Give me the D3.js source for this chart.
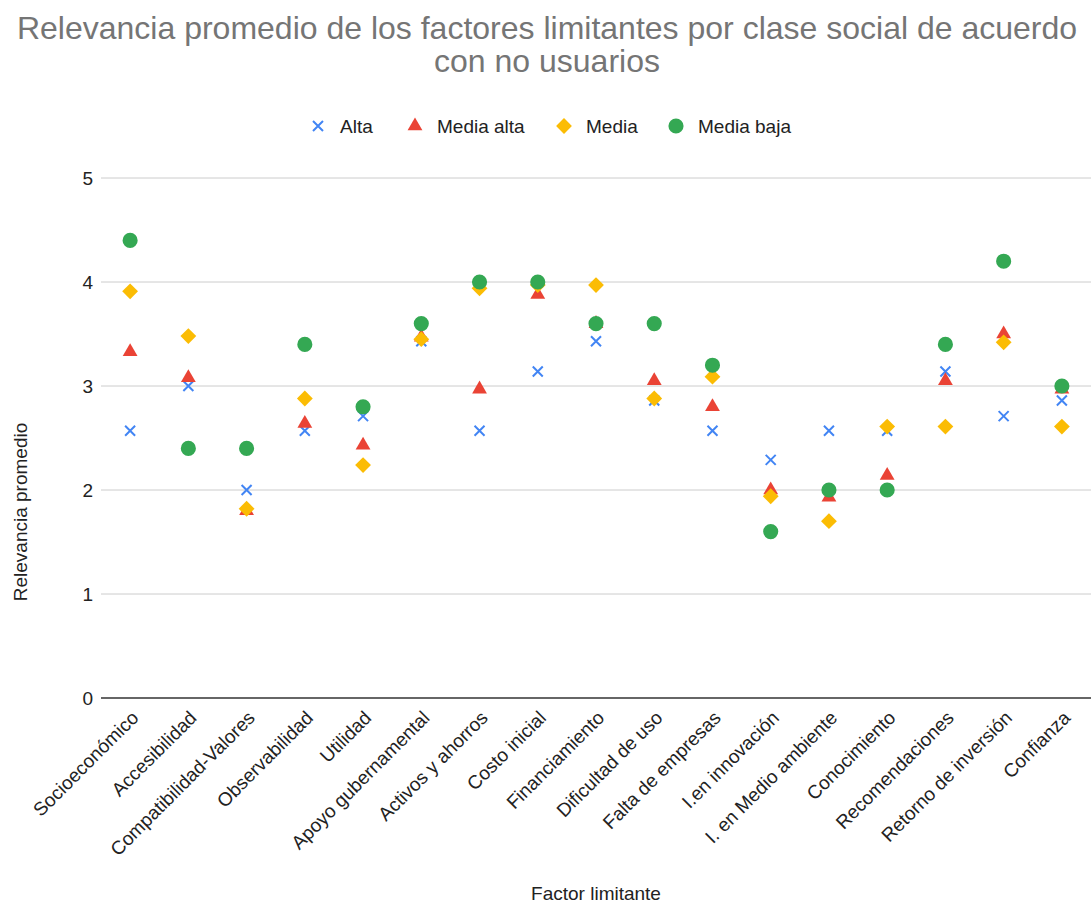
<!DOCTYPE html>
<html>
<head>
<meta charset="utf-8">
<script src="https://cdn.jsdelivr.net/npm/d3@7"></script>
<style>
  body { margin: 0; background: #fff; }
  text { font-family: "Liberation Sans", Arial, sans-serif; }
</style>
</head>
<body>
<div id="plot"></div>
<script>
// Relevancia promedio por clase social (no usuarios)

var categories = ["Socioeconómico", "Accesibilidad", "Compatibilidad-Valores", "Observabilidad",
  "Utilidad", "Apoyo gubernamental", "Activos y ahorros", "Costo inicial", "Financiamiento",
  "Dificultad de uso", "Falta de empresas", "I.en innovación", "I. en Medio ambiente",
  "Conocimiento", "Recomendaciones", "Retorno de inversión", "Confianza"];

var seriesNames = ["Alta", "Media alta", "Media", "Media baja"];

var alta      = [2.57, 3.00, 2.00, 2.57, 2.71, 3.43, 2.57, 3.14, 3.43, 2.86, 2.57, 2.29, 2.57, 2.57, 3.14, 2.71, 2.86];
var mediaAlta = [3.33, 3.08, 1.80, 2.64, 2.43, 3.47, 2.97, 3.88, 3.60, 3.05, 2.80, 2.00, 1.93, 2.14, 3.05, 3.50, 2.97];
var media     = [3.91, 3.48, 1.82, 2.88, 2.24, 3.45, 3.94, 3.97, 3.97, 2.88, 3.09, 1.94, 1.70, 2.61, 2.61, 3.42, 2.61];
var mediaBaja = [4.40, 2.40, 2.40, 3.40, 2.80, 3.60, 4.00, 4.00, 3.60, 3.60, 3.20, 1.60, 2.00, 2.00, 3.40, 4.20, 3.00];

var yTicks = [0, 1, 2, 3, 4, 5];

var svgWidth = 1091;
var svgHeight = 905;

var margin = { top: 178, right: 0, bottom: 207, left: 101 };
var width = svgWidth - margin.left - margin.right;
var height = svgHeight - margin.top - margin.bottom;

var colors = ["#4285f4", "#ea4335", "#fbbc04", "#34a853"];
var shapes = ["cross", "triangle", "diamond", "circle"];
var allSeries = [alta, mediaAlta, media, mediaBaja];

var svg = d3.select("#plot")
  .append("svg")
  .attr("width", svgWidth)
  .attr("height", svgHeight);

// title
var title = svg.append("text")
  .attr("text-anchor", "middle")
  .attr("fill", "#757575")
  .style("font-size", "32px");
title.append("tspan").attr("x", 547).attr("y", 39)
  .text("Relevancia promedio de los factores limitantes por clase social de acuerdo");
title.append("tspan").attr("x", 547).attr("y", 72).text("con no usuarios");

var chartGroup = svg.append("g")
  .attr("transform", `translate(${margin.left}, ${margin.top})`);

var xScale = d3.scalePoint()
  .domain(categories)
  .range([0, width])
  .padding(0.5);

var yScale = d3.scaleLinear()
  .domain([0, 5])
  .range([height, 0]);

// gridlines
chartGroup.append("g")
  .selectAll("line")
  .data(yTicks.filter(d => d > 0))
  .enter()
  .append("line")
  .attr("x1", 0)
  .attr("x2", width)
  .attr("y1", d => yScale(d))
  .attr("y2", d => yScale(d))
  .attr("stroke", "#cccccc")
  .attr("stroke-width", 1);

// baseline
chartGroup.append("line")
  .attr("x1", 0)
  .attr("x2", width)
  .attr("y1", yScale(0))
  .attr("y2", yScale(0))
  .attr("stroke", "#333333")
  .attr("stroke-width", 1.5);

// y axis labels
var leftAxis = d3.axisLeft(yScale).tickValues(yTicks).tickFormat(d3.format("d")).tickSize(0).tickPadding(8);
var yAxisG = chartGroup.append("g").call(leftAxis);
yAxisG.select(".domain").remove();
yAxisG.selectAll("text")
  .attr("fill", "#222222")
  .style("font-size", "19px");

// x axis labels
var bottomAxis = d3.axisBottom(xScale).tickSize(0).tickPadding(0);
var xAxisG = chartGroup.append("g")
  .attr("transform", `translate(0, ${height})`)
  .call(bottomAxis);
xAxisG.select(".domain").remove();
xAxisG.selectAll("text")
  .attr("fill", "#222222")
  .style("font-size", "19px")
  .attr("text-anchor", "end")
  .attr("dy", null)
  .attr("y", 0)
  .attr("transform", "translate(9, 21) rotate(-45)");

// points
var symbolFor = {
  triangle: d3.symbol().type(d3.symbolTriangle).size(95),
  diamond: d3.symbol().type(d3.symbolSquare).size(125),
  circle: d3.symbol().type(d3.symbolCircle).size(180)
};

function drawMark(sel, i) {
  if (shapes[i] === "cross") {
    sel.append("path")
      .attr("d", "M-5,-5L5,5M-5,5L5,-5")
      .attr("stroke", colors[i])
      .attr("stroke-width", 2);
  } else {
    sel.append("path")
      .attr("d", symbolFor[shapes[i]]())
      .attr("transform", shapes[i] === "diamond" ? "rotate(45)" : null)
      .attr("fill", colors[i]);
  }
}

allSeries.forEach(function (vals, i) {
  var g = chartGroup.append("g");
  var pts = g.selectAll("g")
    .data(vals)
    .enter()
    .append("g")
    .attr("transform", (d, j) => `translate(${xScale(categories[j])}, ${yScale(d)})`);
  drawMark(pts, i);
});

// legend
var legendX = [318, 415, 564, 676];
var legend = svg.append("g");
seriesNames.forEach(function (name, i) {
  var lg = legend.append("g").attr("transform", `translate(${legendX[i]}, 126)`);
  drawMark(lg, i);
  lg.append("text")
    .attr("x", 22)
    .attr("y", 7)
    .attr("fill", "#222222")
    .style("font-size", "19px")
    .text(name);
});

// axis titles
svg.append("text")
  .attr("x", margin.left + width / 2)
  .attr("y", 900)
  .attr("text-anchor", "middle")
  .attr("fill", "#222222")
  .style("font-size", "19px")
  .text("Factor limitante");

svg.append("text")
  .attr("transform", "translate(27, 512) rotate(-90)")
  .attr("text-anchor", "middle")
  .attr("fill", "#222222")
  .style("font-size", "19px")
  .text("Relevancia promedio");
</script>
</body>
</html>
